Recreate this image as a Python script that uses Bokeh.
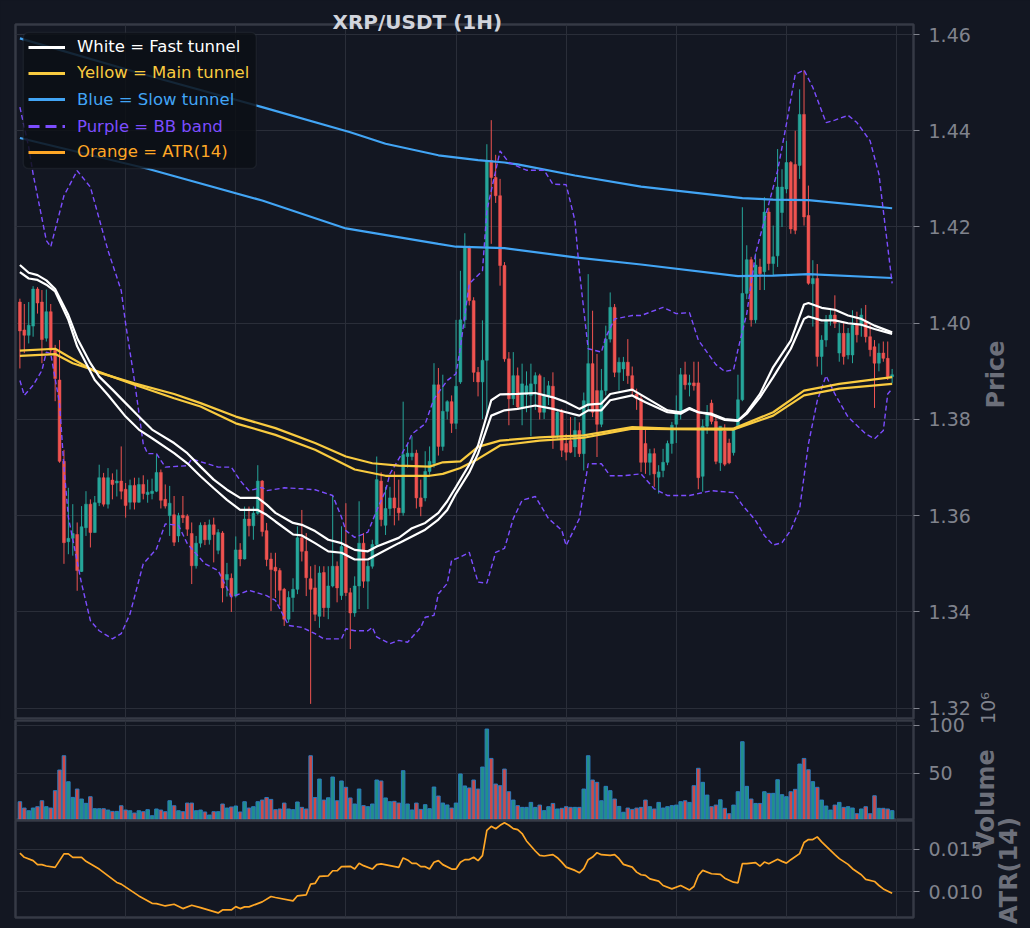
import math
from bokeh.plotting import figure
from bokeh.models import (Range1d, FixedTicker, Legend, LegendItem, BoxAnnotation,
                          PrintfTickFormatter, ColumnDataSource)
from bokeh.layouts import column, row
from bokeh.core.properties import value
from bokeh.embed import file_html
from bokeh.resources import INLINE

# ---------------- data ----------------
candle_idx = list(range(1, 200))

open_prices = [
    1.4044, 1.3986, 1.3975, 1.3994, 1.4071, 1.4044, 1.3969, 1.4024, 1.3944, 1.3882,
    1.3713, 1.3546, 1.3553, 1.3561, 1.3484, 1.3575, 1.3624, 1.3565, 1.3627, 1.3679,
    1.3624, 1.3674, 1.3668, 1.3672, 1.3655, 1.3628, 1.3663, 1.3628, 1.3665, 1.3644,
    1.3646, 1.3651, 1.3690, 1.3634, 1.3600, 1.3602, 1.3558, 1.3601, 1.3599, 1.3563,
    1.3496, 1.3543, 1.3580, 1.3550, 1.3581, 1.3528, 1.3564, 1.3467, 1.3470, 1.3433,
    1.3529, 1.3510, 1.3593, 1.3579, 1.3605, 1.3672, 1.3569, 1.3510, 1.3493, 1.3486,
    1.3447, 1.3385, 1.3430, 1.3447, 1.3554, 1.3526, 1.3469, 1.3450, 1.3391, 1.3482,
    1.3409, 1.3454, 1.3495, 1.3434, 1.3540, 1.3440, 1.3398, 1.3454, 1.3543, 1.3464,
    1.3495, 1.3540, 1.3672, 1.3580, 1.3615, 1.3637, 1.3616, 1.3606, 1.3723, 1.3723,
    1.3730, 1.3637, 1.3637, 1.3692, 1.3709, 1.3872, 1.3744, 1.3817, 1.3837, 1.3792,
    1.3878, 1.4007, 1.4158, 1.4047, 1.3898, 1.3878, 1.3923, 1.4338, 1.4303, 1.4265,
    1.4120, 1.3926, 1.3843, 1.3891, 1.3826, 1.3852, 1.3850, 1.3874, 1.3891, 1.3815,
    1.3850, 1.3869, 1.3767, 1.3815, 1.3750, 1.3756, 1.3743, 1.3777, 1.3729, 1.3829,
    1.3916, 1.3860, 1.3790, 1.3860, 1.3967, 1.4033, 1.3898, 1.3905, 1.3919, 1.3891,
    1.3853, 1.3843, 1.3750, 1.3711, 1.3729, 1.3680, 1.3694, 1.3711, 1.3750, 1.3790,
    1.3814, 1.3893, 1.3872, 1.3876, 1.3876, 1.3682, 1.3786, 1.3834, 1.3796, 1.3710,
    1.3776, 1.3751, 1.3731, 1.3782, 1.3841, 1.4062, 1.4132, 1.4007, 1.4117, 1.4107,
    1.4231, 1.4124, 1.4140, 1.4230, 1.4279, 1.4334, 1.4330, 1.4328, 1.4434, 1.4224,
    1.4082, 1.4093, 1.3931, 1.3965, 1.4007, 1.4017, 1.3938, 1.3979, 1.3934, 1.3934,
    1.3996, 1.3996, 1.4003, 1.3972, 1.3951, 1.3917, 1.3938, 1.3927, 1.3889,
]
high_prices = [
    1.4051, 1.4040, 1.4044, 1.4077, 1.4075, 1.4069, 1.4070, 1.4040, 1.3955, 1.3965,
    1.3737, 1.3658, 1.3624, 1.3586, 1.3620, 1.3651, 1.3634, 1.3641, 1.3706, 1.3689,
    1.3699, 1.3688, 1.3696, 1.3744, 1.3668, 1.3675, 1.3679, 1.3679, 1.3684, 1.3675,
    1.3677, 1.3727, 1.3696, 1.3665, 1.3662, 1.3641, 1.3606, 1.3641, 1.3603, 1.3586,
    1.3558, 1.3586, 1.3587, 1.3592, 1.3596, 1.3572, 1.3568, 1.3502, 1.3480, 1.3557,
    1.3543, 1.3619, 1.3619, 1.3619, 1.3705, 1.3674, 1.3585, 1.3523, 1.3523, 1.3491,
    1.3450, 1.3443, 1.3470, 1.3578, 1.3612, 1.3564, 1.3495, 1.3498, 1.3495, 1.3495,
    1.3495, 1.3643, 1.3505, 1.3578, 1.3626, 1.3450, 1.3474, 1.3630, 1.3564, 1.3505,
    1.3550, 1.3723, 1.3690, 1.3660, 1.3660, 1.3692, 1.3675, 1.3837, 1.3750, 1.3765,
    1.3737, 1.3675, 1.3734, 1.3744, 1.3917, 1.3907, 1.3893, 1.3840, 1.3850, 1.4007,
    1.4109, 1.4187, 1.4161, 1.4054, 1.3909, 1.4006, 1.4372, 1.4422, 1.4350, 1.4300,
    1.4127, 1.3940, 1.3940, 1.3908, 1.3916, 1.3900, 1.3916, 1.3898, 1.3895, 1.3888,
    1.3880, 1.3898, 1.3822, 1.3822, 1.3770, 1.3805, 1.3805, 1.3794, 1.3856, 1.4102,
    1.4026, 1.3936, 1.3905, 1.3995, 1.4064, 1.4040, 1.3929, 1.3930, 1.3967, 1.3910,
    1.3864, 1.3850, 1.3784, 1.3739, 1.3740, 1.3705, 1.3739, 1.3756, 1.3795, 1.3850,
    1.3907, 1.3920, 1.3893, 1.3920, 1.3920, 1.3800, 1.3830, 1.3841, 1.3810, 1.3786,
    1.3790, 1.3760, 1.3782, 1.3893, 1.4241, 1.4162, 1.4138, 1.4145, 1.4134, 1.4262,
    1.4240, 1.4203, 1.4362, 1.4320, 1.4379, 1.4337, 1.4400, 1.4486, 1.4526, 1.4286,
    1.4131, 1.4123, 1.3975, 1.4017, 1.4030, 1.4058, 1.4000, 1.4003, 1.3990, 1.4027,
    1.4024, 1.4031, 1.4038, 1.3996, 1.3965, 1.3958, 1.3962, 1.3962, 1.3905,
]
low_prices = [
    1.3906, 1.3938, 1.3958, 1.3972, 1.4020, 1.3917, 1.3962, 1.3934, 1.3838, 1.3710,
    1.3500, 1.3520, 1.3517, 1.3444, 1.3483, 1.3558, 1.3534, 1.3565, 1.3620, 1.3619,
    1.3615, 1.3634, 1.3640, 1.3634, 1.3596, 1.3613, 1.3613, 1.3627, 1.3634, 1.3627,
    1.3634, 1.3649, 1.3615, 1.3615, 1.3558, 1.3537, 1.3545, 1.3585, 1.3558, 1.3458,
    1.3490, 1.3534, 1.3539, 1.3540, 1.3503, 1.3520, 1.3420, 1.3432, 1.3400, 1.3430,
    1.3495, 1.3509, 1.3557, 1.3550, 1.3602, 1.3557, 1.3495, 1.3402, 1.3429, 1.3413,
    1.3371, 1.3378, 1.3400, 1.3437, 1.3505, 1.3433, 1.3209, 1.3381, 1.3367, 1.3390,
    1.3385, 1.3451, 1.3420, 1.3425, 1.3433, 1.3323, 1.3390, 1.3406, 1.3450, 1.3406,
    1.3490, 1.3537, 1.3578, 1.3560, 1.3600, 1.3580, 1.3590, 1.3600, 1.3700, 1.3715,
    1.3615, 1.3599, 1.3630, 1.3685, 1.3700, 1.3725, 1.3735, 1.3800, 1.3772, 1.3780,
    1.3874, 1.3990, 1.4037, 1.3878, 1.3848, 1.3801, 1.3805, 1.4165, 1.4250, 1.4078,
    1.3920, 1.3788, 1.3830, 1.3820, 1.3788, 1.3815, 1.3765, 1.3820, 1.3800, 1.3801,
    1.3830, 1.3739, 1.3760, 1.3722, 1.3715, 1.3730, 1.3722, 1.3722, 1.3694, 1.3819,
    1.3805, 1.3722, 1.3784, 1.3850, 1.3960, 1.3888, 1.3860, 1.3880, 1.3874, 1.3850,
    1.3820, 1.3691, 1.3687, 1.3684, 1.3660, 1.3646, 1.3680, 1.3705, 1.3729, 1.3751,
    1.3800, 1.3862, 1.3848, 1.3860, 1.3655, 1.3650, 1.3770, 1.3790, 1.3707, 1.3693,
    1.3703, 1.3707, 1.3725, 1.3782, 1.3838, 1.4050, 1.3993, 1.4000, 1.4069, 1.4069,
    1.4110, 1.4100, 1.4117, 1.4200, 1.4270, 1.4186, 1.4185, 1.4300, 1.4203, 1.4080,
    1.3993, 1.3910, 1.3893, 1.3951, 1.3995, 1.3990, 1.3920, 1.3914, 1.3925, 1.3917,
    1.3960, 1.3972, 1.3960, 1.3931, 1.3824, 1.3900, 1.3920, 1.3882, 1.3875,
]
close_prices = [
    1.3984, 1.3975, 1.3996, 1.4071, 1.4042, 1.3966, 1.4024, 1.3944, 1.3885, 1.3713,
    1.3544, 1.3553, 1.3563, 1.3486, 1.3577, 1.3624, 1.3565, 1.3627, 1.3679, 1.3624,
    1.3679, 1.3665, 1.3672, 1.3651, 1.3621, 1.3663, 1.3628, 1.3665, 1.3646, 1.3649,
    1.3651, 1.3690, 1.3632, 1.3620, 1.3626, 1.3545, 1.3600, 1.3596, 1.3572, 1.3496,
    1.3543, 1.3580, 1.3550, 1.3581, 1.3561, 1.3565, 1.3450, 1.3478, 1.3432, 1.3529,
    1.3510, 1.3593, 1.3579, 1.3605, 1.3672, 1.3567, 1.3509, 1.3488, 1.3485, 1.3445,
    1.3385, 1.3430, 1.3447, 1.3554, 1.3526, 1.3471, 1.3447, 1.3395, 1.3481, 1.3409,
    1.3454, 1.3495, 1.3450, 1.3536, 1.3440, 1.3398, 1.3454, 1.3543, 1.3464, 1.3495,
    1.3540, 1.3675, 1.3592, 1.3615, 1.3637, 1.3616, 1.3606, 1.3727, 1.3730, 1.3730,
    1.3637, 1.3619, 1.3692, 1.3713, 1.3872, 1.3744, 1.3817, 1.3837, 1.3792, 1.3869,
    1.4007, 1.4158, 1.4047, 1.3898, 1.3878, 1.3923, 1.4338, 1.4303, 1.4265, 1.4120,
    1.3926, 1.3843, 1.3891, 1.3826, 1.3874, 1.3870, 1.3874, 1.3891, 1.3815, 1.3850,
    1.3870, 1.3765, 1.3815, 1.3736, 1.3732, 1.3732, 1.3777, 1.3729, 1.3839, 1.3916,
    1.3815, 1.3790, 1.3860, 1.3967, 1.4033, 1.3898, 1.3919, 1.3919, 1.3891, 1.3860,
    1.3843, 1.3711, 1.3711, 1.3729, 1.3687, 1.3691, 1.3711, 1.3750, 1.3788, 1.3814,
    1.3893, 1.3872, 1.3876, 1.3870, 1.3679, 1.3786, 1.3810, 1.3796, 1.3713, 1.3786,
    1.3707, 1.3710, 1.3782, 1.3841, 1.4062, 1.4132, 1.4007, 1.4121, 1.4103, 1.4231,
    1.4124, 1.4138, 1.4283, 1.4283, 1.4334, 1.4196, 1.4193, 1.4434, 1.4221, 1.4083,
    1.4093, 1.3931, 1.3965, 1.4007, 1.4017, 1.4000, 1.3979, 1.3931, 1.3979, 1.3996,
    1.3976, 1.4017, 1.3972, 1.3945, 1.3917, 1.3938, 1.3927, 1.3889, 1.3893,
]
# volume in millions (axis offset 10^6)
volume_millions = [
    20.1, 13.5, 10.7, 13.5, 14.9, 21.1, 14.9, 13.5, 31.6, 53.1,
    68.0, 40.9, 24.6, 33.3, 22.9, 18.4, 25.3, 12.8, 12.8, 12.8,
    11.4, 10.0, 10.0, 15.9, 11.4, 10.7, 8.3, 10.7, 9.7, 11.8,
    5.5, 12.5, 11.4, 9.7, 21.1, 15.9, 10.7, 9.7, 18.7, 18.7,
    10.7, 11.4, 9.4, 6.2, 9.7, 9.7, 17.7, 13.5, 14.6, 15.6,
    9.4, 20.1, 13.5, 14.9, 20.1, 21.8, 24.5, 22.5, 11.8, 12.5,
    18.7, 12.5, 11.8, 19.8, 14.2, 12.5, 68.0, 24.5, 43.7, 21.8,
    24.2, 45.8, 21.1, 41.7, 35.1, 24.0, 17.7, 33.3, 16.0, 14.9,
    17.7, 42.7, 41.7, 24.0, 20.1, 20.5, 18.7, 52.4, 17.7, 11.5,
    18.7, 12.1, 17.0, 12.8, 35.4, 26.0, 18.7, 16.7, 13.5, 18.7,
    49.0, 36.5, 34.4, 42.7, 33.3, 56.2, 95.8, 65.2, 38.5, 36.8,
    54.1, 30.5, 21.8, 16.0, 14.2, 14.2, 19.4, 14.2, 16.6, 10.8,
    14.9, 18.3, 12.5, 13.2, 14.9, 14.2, 14.2, 14.2, 33.3, 68.0,
    42.7, 40.3, 21.1, 36.1, 31.6, 22.9, 15.2, 9.1, 13.5, 12.1,
    13.5, 14.2, 21.8, 14.9, 12.5, 19.4, 13.5, 14.9, 16.0, 16.6,
    20.1, 21.1, 19.4, 36.8, 54.9, 40.3, 27.0, 14.9, 16.6, 22.1,
    13.2, 7.6, 16.6, 30.5, 82.6, 36.1, 22.9, 18.3, 18.3, 30.5,
    28.8, 28.8, 43.0, 27.4, 25.3, 30.5, 33.0, 59.3, 65.2, 53.4,
    41.0, 35.1, 21.8, 15.6, 11.4, 16.6, 19.4, 14.2, 14.9, 13.5,
    7.6, 12.5, 14.9, 7.6, 26.3, 13.2, 13.2, 12.5, 10.8,
]

atr_idx = [1, 2, 4, 5, 6, 7, 9, 11, 12, 13, 15, 16, 19, 23, 24, 28, 31, 32, 34, 36,
           38, 40, 42, 46, 47, 49, 50, 51, 52, 53, 56, 58, 59, 63, 64, 66, 67, 68, 69, 71,
           72, 73, 74, 76, 77, 78, 79, 81, 82, 83, 85, 87, 88, 89, 90, 91, 92, 93, 94, 95,
           96, 97, 99, 100, 101, 102, 103, 104, 105, 106, 107, 108, 109, 110, 111, 112, 113, 114, 115, 116,
           117, 118, 119, 120, 122, 123, 124, 125, 127, 128, 129, 130, 131, 132, 133, 135, 136, 137, 138, 140,
           141, 142, 143, 144, 146, 147, 149, 151, 153, 154, 155, 156, 158, 160, 161, 163, 164, 165, 166, 168,
           169, 170, 171, 173, 174, 175, 176, 178, 179, 180, 181, 182, 183, 185, 186, 187, 189, 190, 192, 193,
           195, 196, 197, 199]
atr_values = [0.01453, 0.01405, 0.01366, 0.01319, 0.01319, 0.01303, 0.01287, 0.01445, 0.01445, 0.01405,
              0.01405, 0.01358, 0.01267, 0.01110, 0.01090, 0.00952, 0.00865, 0.00862, 0.00834, 0.00854,
              0.00803, 0.00842, 0.00815, 0.00752, 0.00787, 0.00787, 0.00826, 0.00803, 0.00823, 0.00823,
              0.00882, 0.00945, 0.00933, 0.00894, 0.00953, 0.00965, 0.01090, 0.01098, 0.01181, 0.01188,
              0.01247, 0.01247, 0.01295, 0.01299, 0.01267, 0.01334, 0.01307, 0.01267, 0.01319, 0.01327,
              0.01307, 0.01287, 0.01397, 0.01374, 0.01334, 0.01334, 0.01295, 0.01295, 0.01267, 0.01346,
              0.01366, 0.01319, 0.01267, 0.01267, 0.01346, 0.01378, 0.01378, 0.01405, 0.01366, 0.01425,
              0.01721, 0.01768, 0.01740, 0.01780, 0.01811, 0.01781, 0.01742, 0.01730, 0.01684, 0.01597,
              0.01538, 0.01479, 0.01428, 0.01420, 0.01436, 0.01400, 0.01349, 0.01290, 0.01251, 0.01223,
              0.01271, 0.01377, 0.01408, 0.01459, 0.01436, 0.01428, 0.01436, 0.01389, 0.01322, 0.01290,
              0.01231, 0.01200, 0.01192, 0.01152, 0.01125, 0.01074, 0.01034, 0.01074, 0.01022, 0.01062,
              0.01192, 0.01251, 0.01212, 0.01204, 0.01160, 0.01113, 0.01105, 0.01330, 0.01330, 0.01342,
              0.01302, 0.01349, 0.01330, 0.01381, 0.01357, 0.01337, 0.01377, 0.01448, 0.01578, 0.01613,
              0.01613, 0.01645, 0.01586, 0.01487, 0.01436, 0.01389, 0.01322, 0.01271, 0.01200, 0.01145,
              0.01121, 0.01074, 0.01034, 0.00983]

fast_a_idx = [1, 3, 5, 7, 9, 12, 14, 17, 19, 22, 25, 28, 31, 36, 39, 42, 45, 48, 51, 55,
              57, 59, 63, 65, 68, 71, 74, 77, 80, 82, 87, 90, 93, 96, 98, 100, 103, 105, 108, 110,
              114, 118, 122, 125, 128, 130, 133, 135, 140, 143, 148, 151, 153, 155, 158, 161, 164, 166, 169, 172,
              176, 179, 180, 183, 186, 189, 192, 195, 199]
fast_a_values = [1.4121, 1.4105, 1.4100, 1.4089, 1.4071, 1.4017, 1.3969, 1.3917, 1.3889, 1.3862,
                 1.3834, 1.3806, 1.3779, 1.3751, 1.3730, 1.3702, 1.3675, 1.3654, 1.3637, 1.3637,
                 1.3623, 1.3606, 1.3585, 1.3581, 1.3568, 1.3550, 1.3543, 1.3529, 1.3526, 1.3536,
                 1.3554, 1.3574, 1.3585, 1.3606, 1.3630, 1.3660, 1.3706, 1.3746, 1.3840, 1.3852,
                 1.3853, 1.3855, 1.3846, 1.3836, 1.3822, 1.3831, 1.3833, 1.3853, 1.3862, 1.3846,
                 1.3819, 1.3815, 1.3824, 1.3815, 1.3812, 1.3801, 1.3798, 1.3815, 1.3853, 1.3909,
                 1.3964, 1.4039, 1.4042, 1.4032, 1.4028, 1.4016, 1.4009, 1.3995, 1.3981]
fast_b_idx = [1, 3, 5, 7, 9, 12, 14, 18, 21, 25, 28, 31, 36, 39, 42, 45, 48, 51, 55, 57,
              59, 63, 65, 68, 71, 74, 77, 80, 82, 87, 90, 93, 96, 98, 100, 103, 105, 108, 111, 114,
              118, 122, 125, 128, 130, 133, 135, 140, 143, 148, 151, 153, 155, 158, 161, 164, 166, 169, 172, 176,
              179, 180, 183, 186, 189, 192, 195, 199]
fast_b_values = [1.4106, 1.4093, 1.4090, 1.4080, 1.4066, 1.4007, 1.3952, 1.3882, 1.3851, 1.3806,
                 1.3779, 1.3761, 1.3730, 1.3709, 1.3682, 1.3657, 1.3633, 1.3612, 1.3612, 1.3602,
                 1.3588, 1.3561, 1.3559, 1.3543, 1.3526, 1.3523, 1.3509, 1.3509, 1.3519, 1.3543,
                 1.3557, 1.3571, 1.3592, 1.3612, 1.3646, 1.3690, 1.3729, 1.3808, 1.3819, 1.3822,
                 1.3829, 1.3822, 1.3815, 1.3808, 1.3819, 1.3819, 1.3840, 1.3850, 1.3836, 1.3815,
                 1.3812, 1.3822, 1.3815, 1.3810, 1.3799, 1.3797, 1.3812, 1.3846, 1.3888, 1.3947,
                 1.4009, 1.4014, 1.4006, 1.4006, 1.4000, 1.3997, 1.3988, 1.3978]

main_a_idx = [1, 9, 12, 18, 27, 36, 42, 50, 59, 68, 75, 81, 87, 94, 97, 101, 105, 110, 119, 129,
              140, 149, 163, 172, 179, 187, 199]
main_a_values = [1.3943, 1.3947, 1.3931, 1.3900, 1.3875, 1.3853, 1.3834, 1.3806, 1.3782, 1.3751,
                 1.3723, 1.3709, 1.3704, 1.3702, 1.3711, 1.3713, 1.3743, 1.3756, 1.3763, 1.3767,
                 1.3784, 1.3781, 1.3781, 1.3815, 1.3860, 1.3874, 1.3888]
main_b_idx = [1, 9, 13, 18, 27, 36, 42, 50, 59, 68, 77, 84, 94, 97, 101, 105, 110, 119, 129, 140,
              149, 163, 172, 179, 187, 199]
main_b_values = [1.3932, 1.3936, 1.3917, 1.3902, 1.3872, 1.3844, 1.3827, 1.3792, 1.3768, 1.3737,
                 1.3696, 1.3683, 1.3683, 1.3687, 1.3699, 1.3718, 1.3746, 1.3756, 1.3762, 1.3781,
                 1.3780, 1.3779, 1.3808, 1.3850, 1.3864, 1.3874]

slow_a_idx = [1, 28, 56, 76, 84, 96, 105, 111, 114, 127, 142, 165, 172, 180, 199]
slow_a_values = [1.4592, 1.4520, 1.4449, 1.4397, 1.4373, 1.4349, 1.4339, 1.4334, 1.4330, 1.4307,
                 1.4284, 1.4260, 1.4257, 1.4256, 1.4239]
slow_b_idx = [1, 30, 56, 75, 96, 100, 111, 127, 142, 164, 172, 180, 199]
slow_b_values = [1.4385, 1.4321, 1.4255, 1.4197, 1.4165, 1.4159, 1.4156, 1.4137, 1.4122, 1.4098,
                 1.4099, 1.4102, 1.4094]

bb_upper_idx = [1, 3, 4, 7, 8, 11, 14, 17, 21, 24, 25, 27, 29, 30, 32, 34, 39, 40, 46, 49,
                51, 53, 56, 57, 61, 65, 68, 72, 74, 75, 77, 79, 80, 82, 84, 85, 89, 90, 93, 95,
                98, 100, 101, 103, 106, 107, 110, 112, 116, 120, 122, 125, 127, 128, 130, 133, 134, 136, 140, 142,
                147, 150, 153, 155, 159, 161, 163, 164, 166, 168, 171, 173, 175, 177, 179, 181, 184, 186, 189, 191,
                194, 196, 197, 199]
bb_upper_values = [1.4449, 1.4366, 1.4310, 1.4172, 1.4159, 1.4265, 1.4317, 1.4283, 1.4151, 1.4068,
                   1.3999, 1.3881, 1.3749, 1.3729, 1.3729, 1.3701, 1.3704, 1.3718, 1.3701, 1.3701,
                   1.3673, 1.3652, 1.3659, 1.3652, 1.3658, 1.3656, 1.3654, 1.3642, 1.3597, 1.3569,
                   1.3555, 1.3562, 1.3566, 1.3611, 1.3652, 1.3687, 1.3749, 1.3770, 1.3791, 1.3843,
                   1.3881, 1.3895, 1.3950, 1.4082, 1.4109, 1.4234, 1.4358, 1.4334, 1.4318, 1.4318,
                   1.4289, 1.4288, 1.4213, 1.4109, 1.3947, 1.3940, 1.3971, 1.4009, 1.4016, 1.4016,
                   1.4033, 1.4020, 1.4022, 1.3965, 1.3914, 1.3900, 1.3903, 1.3945, 1.4020, 1.4145,
                   1.4248, 1.4317, 1.4414, 1.4517, 1.4526, 1.4490, 1.4417, 1.4422, 1.4432, 1.4417,
                   1.4379, 1.4310, 1.4234, 1.4083]
bb_lower_idx = [1, 2, 4, 6, 7, 8, 10, 11, 12, 15, 17, 19, 22, 24, 26, 29, 32, 34, 37, 39,
                43, 46, 49, 53, 57, 59, 62, 65, 68, 70, 74, 75, 77, 80, 81, 82, 85, 87, 89, 92,
                93, 95, 96, 98, 99, 101, 103, 105, 107, 109, 111, 113, 115, 118, 121, 124, 125, 128, 130, 133,
                135, 138, 142, 145, 148, 153, 158, 163, 165, 167, 168, 170, 172, 174, 176, 178, 180, 182, 184, 186,
                189, 193, 195, 197, 198, 199]
bb_lower_values = [1.3881, 1.3850, 1.3871, 1.3902, 1.3940, 1.3937, 1.3833, 1.3701, 1.3597, 1.3459,
                   1.3382, 1.3361, 1.3344, 1.3355, 1.3396, 1.3500, 1.3531, 1.3583, 1.3580, 1.3542,
                   1.3500, 1.3486, 1.3431, 1.3445, 1.3434, 1.3424, 1.3372, 1.3368, 1.3355, 1.3344,
                   1.3344, 1.3365, 1.3361, 1.3361, 1.3368, 1.3348, 1.3334, 1.3341, 1.3337, 1.3368,
                   1.3389, 1.3393, 1.3438, 1.3459, 1.3507, 1.3514, 1.3524, 1.3462, 1.3460, 1.3524,
                   1.3532, 1.3594, 1.3632, 1.3640, 1.3594, 1.3570, 1.3538, 1.3594, 1.3708, 1.3708,
                   1.3683, 1.3683, 1.3687, 1.3656, 1.3642, 1.3642, 1.3652, 1.3648, 1.3622, 1.3601,
                   1.3590, 1.3559, 1.3539, 1.3544, 1.3570, 1.3614, 1.3749, 1.3839, 1.3891, 1.3853,
                   1.3805, 1.3770, 1.3760, 1.3777, 1.3853, 1.3864]

price_ticks = [1.32, 1.34, 1.36, 1.38, 1.40, 1.42, 1.44, 1.46]
volume_ticks = [50, 100]
atr_ticks = [0.010, 0.015]
x_grid_ticks = [25, 50, 75, 100, 125, 150, 175, 200]

title_text = "XRP/USDT (1H)"
axis_titles = ["Price", "Volume", "ATR(14)"]
volume_offset_text = "10\u2076"
legend_labels = ["White = Fast tunnel", "Yellow = Main tunnel", "Blue = Slow tunnel",
                 "Purple = BB band", "Orange = ATR(14)"]

# ---------------- styling ----------------
BG = "#131722"
GRID = "#2a2e39"
SPINE = "#363a45"
TICK = "#80838d"
AXLABEL = "#6c6f7a"
UP = "#26a69a"
DOWN = "#ef5350"
WHITE = "#ffffff"
YELLOW = "#f9cb40"
BLUE = "#42a5f5"
PURPLE = "#7c4dff"
ORANGE = "#ffa726"
FONT = "DejaVu Sans"

x_range = Range1d(0, 203.85)


def make_fig(frame_h, y_range, top, bottom, transparent_border=False, **kw):
    f = figure(frame_width=898, frame_height=frame_h, x_range=x_range, y_range=y_range,
               x_axis_location=None, y_axis_location="right", toolbar_location=None,
               output_backend="svg", min_border_left=15, min_border_right=117,
               min_border_top=top, min_border_bottom=bottom, **kw)
    f.background_fill_color = BG
    f.border_fill_color = BG
    if transparent_border:
        f.border_fill_alpha = 0
    f.outline_line_color = SPINE
    f.outline_line_width = 2.5
    f.xgrid.ticker = FixedTicker(ticks=x_grid_ticks)
    f.xgrid.grid_line_color = GRID
    f.ygrid.grid_line_color = GRID
    return f


def style_axis(f, ticks, fmt):
    ax = f.yaxis[0]
    ax.ticker = FixedTicker(ticks=ticks)
    ax.formatter = PrintfTickFormatter(format=fmt)
    ax.major_label_text_font = FONT
    ax.major_label_text_font_size = "19px"
    ax.major_label_text_color = TICK
    ax.major_label_standoff = 9
    ax.major_tick_out = 6
    ax.major_tick_in = 0
    ax.major_tick_line_color = TICK
    ax.minor_tick_line_color = None
    ax.axis_line_color = None


# ---------------- price panel ----------------
p = make_fig(694, Range1d(1.31786, 1.46208), 24, 1, title=title_text)
style_axis(p, price_ticks, "%.2f")
p.title.align = "left"
p.title.offset = 317
p.title.standoff = -18
p.title.text_font = FONT
p.title.text_font_style = "bold"
p.title.text_font_size = "20px"
p.title.text_color = "#d1d4dc"

colors = [UP if c >= o else DOWN for o, c in zip(open_prices, close_prices)]
src = ColumnDataSource(dict(
    x=candle_idx, o=open_prices, h=high_prices, l=low_prices, c=close_prices,
    top=[max(o, c) for o, c in zip(open_prices, close_prices)],
    bot=[min(o, c) for o, c in zip(open_prices, close_prices)],
    color=colors, vol=volume_millions))

p.segment(x0="x", y0="l", x1="x", y1="h", line_color="color", line_width=1, source=src)
p.vbar(x="x", width=0.65, top="top", bottom="bot", fill_color="color", line_color="color",
       line_width=0.5, source=src)

p.line(slow_a_idx, slow_a_values, line_color=BLUE, line_width=2.2)
p.line(slow_b_idx, slow_b_values, line_color=BLUE, line_width=2.2)
p.line(bb_upper_idx, bb_upper_values, line_color=PURPLE, line_width=1.4, line_dash="5 3")
p.line(bb_lower_idx, bb_lower_values, line_color=PURPLE, line_width=1.4, line_dash="5 3")
p.line(main_a_idx, main_a_values, line_color=YELLOW, line_width=2.2)
p.line(main_b_idx, main_b_values, line_color=YELLOW, line_width=2.2)
p.line(fast_a_idx, fast_a_values, line_color=WHITE, line_width=2.2)
p.line(fast_b_idx, fast_b_values, line_color=WHITE, line_width=2.2)

# legend box + one legend per (coloured) entry
box = BoxAnnotation(left=1.78, right=54.66, top=1.46042, bottom=1.43216,
                    fill_color="#0c0f15", fill_alpha=0.85, line_color=SPINE, line_width=1.5,
                    border_radius=5)
p.add_layout(box)

legend_styles = [(WHITE, None), (YELLOW, None), (BLUE, None), (PURPLE, "11 6"), (ORANGE, None)]
legend_bottoms = [661.3, 635.3, 608.7, 582.0, 556.3]
for label, (col, dash), yb in zip(legend_labels, legend_styles, legend_bottoms):
    kw = dict(line_color=col, line_width=2.8)
    if dash:
        kw["line_dash"] = dash
    r = p.line(x=[math.nan], y=[math.nan], **kw)
    lg = Legend(items=[LegendItem(label=label, renderers=[r])], location=(13, yb),
                label_text_color=col, label_text_font=FONT, label_text_font_size="16.5px",
                background_fill_alpha=0, border_line_alpha=0, padding=0, margin=0, spacing=0,
                glyph_width=37, glyph_height=20, label_height=20, label_standoff=12)
    p.add_layout(lg)

# ---------------- volume panel ----------------
pv = make_fig(99, Range1d(1.56, 104.7), 40, 36, transparent_border=True)
pv.styles = {"margin-top": "-39px"}
style_axis(pv, volume_ticks, "%d")
pv.vbar(x="x", width=0.8, top="vol", bottom=0, fill_color="color", fill_alpha=0.85,
        line_color="#2b7bbd", line_width=1, source=src)

# ---------------- ATR panel ----------------
pa = make_fig(97, Range1d(0.006984, 0.018369), 1, 6, transparent_border=True)
pa.styles = {"margin-top": "-36px"}
style_axis(pa, atr_ticks, "%.3f")
pa.line(atr_idx, atr_values, line_color=ORANGE, line_width=1.7)

# ---------------- transparent strip carrying the rotated axis titles ----------------
STRIP_W, STRIP_H, STRIP_LEFT = 70, 928, 960
strip = figure(width=STRIP_W, height=STRIP_H, x_range=Range1d(0, STRIP_W),
               y_range=Range1d(0, STRIP_H), x_axis_location=None, y_axis_location=None,
               toolbar_location=None, output_backend="svg", min_border=0)
strip.grid.visible = False
strip.outline_line_color = None
strip.background_fill_alpha = 0
strip.border_fill_alpha = 0
strip.styles = {"margin-left": f"-{STRIP_W}px"}

# page-pixel centres of the side texts
title_pos = {"Price": (995, 374), "Volume": (985, 799), "ATR(14)": (1008, 870)}
strip.text(x=[title_pos[t][0] - STRIP_LEFT for t in axis_titles],
           y=[STRIP_H - title_pos[t][1] for t in axis_titles],
           text=axis_titles, angle=math.pi / 2, text_align="center", text_baseline="middle",
           text_font=value(FONT), text_font_style="bold", text_font_size="24px",
           text_color=AXLABEL)
strip.text(x=[987.5 - STRIP_LEFT], y=[STRIP_H - 707.5], text=[volume_offset_text],
           angle=math.pi / 2, text_align="center", text_baseline="middle",
           text_font=value(FONT), text_font_size="19px", text_color=TICK)

layout = row(column(p, pv, pa, spacing=0), strip, spacing=0)
layout.styles = {"background-color": BG}

with open("out.html", "w") as fh:
    fh.write(file_html(layout, INLINE, title=title_text))
